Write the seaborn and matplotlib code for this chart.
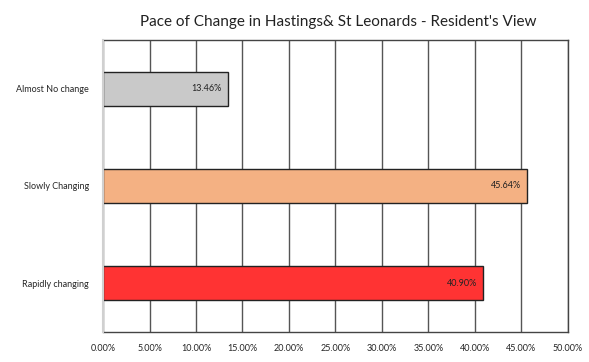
import matplotlib
matplotlib.use("Agg")
from matplotlib import pyplot as plt
from matplotlib.ticker import FuncFormatter
import pandas as pd
import seaborn as sns

categories = ["Almost No change", "Slowly Changing", "Rapidly changing"]
values = [13.46, 45.64, 40.90]
colors = ["#c9c9c9", "#f4b183", "#ff3333"]
x_ticks = [0, 5, 10, 15, 20, 25, 30, 35, 40, 45, 50]


def main():
    sns.set_style("white")
    plt.rcParams["font.family"] = ["Lato", "DejaVu Sans"]

    df = pd.DataFrame({"Category": categories, "Percent": values})

    fig = plt.figure(figsize=(5.89, 3.62), dpi=100)
    ax = fig.add_axes([0.175, 0.083, 0.789, 0.8065])

    sns.barplot(data=df, x="Percent", y="Category", hue="Category",
                palette=colors, orient="h", width=0.35, legend=False,
                edgecolor="#222222", linewidth=1.0, saturation=1, ax=ax)

    # Data labels inside the bar ends
    for val, patch in zip(values, ax.patches):
        y = patch.get_y() + patch.get_height() / 2
        ax.text(val - 0.7, y, f"{val:.2f}%", ha="right", va="center",
                fontsize=6.5, color="#222222")

    ax.set_xlim(0, 50)
    ax.set_xticks(x_ticks)
    ax.xaxis.set_major_formatter(FuncFormatter(lambda v, p: f"{v:.2f}%"))
    ax.tick_params(axis="x", labelsize=6.5, length=0, pad=9)
    ax.tick_params(axis="y", labelsize=6.5, length=0, pad=10)
    ax.set_xlabel("")
    ax.set_ylabel("")

    ax.grid(axis="x", color="#555555", linewidth=1.0)
    ax.set_axisbelow(True)
    for side in ["top", "right", "bottom"]:
        ax.spines[side].set_color("#444444")
        ax.spines[side].set_linewidth(1.0)
    ax.spines["left"].set_color("#d0d0d0")
    ax.spines["left"].set_linewidth(1.5)
    ax.spines["left"].set_zorder(5)

    fig.text(0.575, 0.94, "Pace of Change in Hastings& St Leonards - Resident's View",
             ha="center", va="center", fontsize=11, color="#222222")

    fig.savefig("out.png", dpi=100)


if __name__ == "__main__":
    main()
